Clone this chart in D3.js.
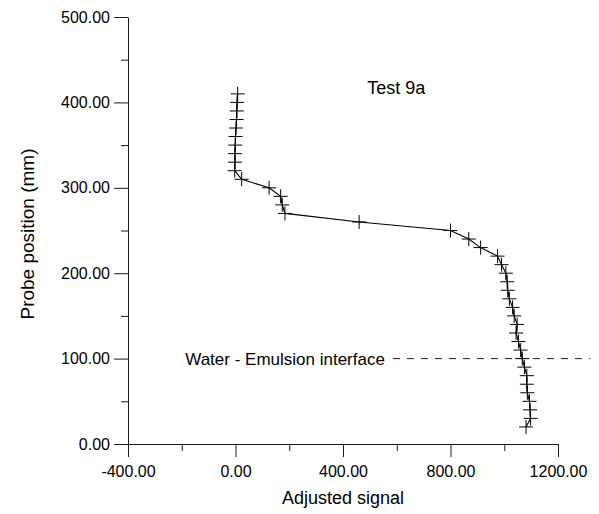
<!DOCTYPE html>
<html>
<head>
<meta charset="utf-8">
<script src="https://cdn.jsdelivr.net/npm/d3@7"></script>
<style>
    body { margin: 0; background: #fff; }
    svg { display: block; font-family: "Liberation Sans", Arial, sans-serif; }
</style>
</head>
<body>
<svg id="chart" width="599" height="514"></svg>
<script>
// Probe readings, top of the tank down to the bottom
const positions = [410, 400, 390, 380, 370, 360, 350, 340, 330, 320,
    310, 300, 290, 280, 270, 260, 250, 240, 230, 220,
    210, 200, 190, 180, 170, 160, 150, 140, 130, 120,
    110, 100, 90, 80, 70, 60, 50, 40, 30, 20];
const signal = [8, 6, 5, 4, 2, 0, -1, -2, -2, -3,
    23, 125, 168, 174, 184, 460, 800, 868, 912, 975,
    990, 1006, 1011, 1013, 1019, 1031, 1037, 1048, 1044, 1053,
    1061, 1067, 1075, 1084, 1084, 1086, 1094, 1096, 1098, 1081];

const xTicks = [-400, 0, 400, 800, 1200];
const xMinorTicks = [-200, 200, 600, 1000];
const yTicks = [0, 100, 200, 300, 400, 500];
const yMinorTicks = [50, 150, 250, 350, 450];

const interfaceLevel = 100;
const interfaceLabel = 'Water - Emulsion interface';
const testLabel = 'Test 9a';

const svg = d3.select('#chart');

const x = d3.scaleLinear().domain([-400, 1200]).range([128, 558]);
const y = d3.scaleLinear().domain([0, 500]).range([444, 17]);

// plain hyphen for negatives, like the original
const fmt = d => d.toFixed(2);
const axisColor = '#1a1a1a';

// y axis
svg.append('g')
    .attr('transform', `translate(${x(-400)},0)`)
    .call(d3.axisLeft(y).tickValues(yTicks).tickFormat(fmt).tickSize(14).tickSizeOuter(0).tickPadding(4));
svg.append('g')
    .attr('transform', `translate(${x(-400)},0)`)
    .call(d3.axisLeft(y).tickValues(yMinorTicks).tickFormat('').tickSize(7).tickSizeOuter(0))
    .select('.domain').remove();

// x axis
svg.append('g')
    .attr('transform', `translate(0,${y(0)})`)
    .call(d3.axisBottom(x).tickValues(xTicks).tickFormat(fmt).tickSize(13).tickSizeOuter(0).tickPadding(9));
svg.append('g')
    .attr('transform', `translate(0,${y(0)})`)
    .call(d3.axisBottom(x).tickValues(xMinorTicks).tickFormat('').tickSize(7).tickSizeOuter(0))
    .select('.domain').remove();

svg.selectAll('.domain, .tick line').attr('stroke', axisColor);
svg.selectAll('.tick text').attr('fill', '#000').style('font-size', '16px');

// axis titles
svg.append('text')
    .attr('x', 343)
    .attr('y', 504)
    .attr('text-anchor', 'middle')
    .style('font-size', '18px')
    .text('Adjusted signal');

svg.append('text')
    .attr('transform', 'translate(34,234) rotate(-90)')
    .attr('text-anchor', 'middle')
    .style('font-size', '19px')
    .text('Probe position (mm)');

// interface line
svg.append('line')
    .attr('x1', x(586)).attr('x2', x(1320))
    .attr('y1', y(interfaceLevel)).attr('y2', y(interfaceLevel))
    .attr('stroke', '#222')
    .attr('stroke-width', 1)
    .attr('stroke-dasharray', '7,7');

svg.append('text')
    .attr('x', x(556))
    .attr('y', y(interfaceLevel))
    .attr('dy', '0.35em')
    .attr('text-anchor', 'end')
    .style('font-size', '17px')
    .text(interfaceLabel);

svg.append('text')
    .attr('x', x(490))
    .attr('y', y(410))
    .style('font-size', '18px')
    .text(testLabel);

// profile
const points = positions.map((p, i) => ({ pos: p, val: signal[i] }));

svg.append('path')
    .datum(points)
    .attr('fill', 'none')
    .attr('stroke', '#000')
    .attr('stroke-width', 1.1)
    .attr('d', d3.line().x(d => x(d.val)).y(d => y(d.pos)));

svg.append('g')
    .selectAll('path')
    .data(points)
    .join('path')
    .attr('transform', d => `translate(${x(d.val)},${y(d.pos)})`)
    .attr('d', 'M-7,0H7M0,-7V7')
    .attr('stroke', '#000')
    .attr('stroke-width', 1)
    .attr('fill', 'none');
</script>
</body>
</html>
